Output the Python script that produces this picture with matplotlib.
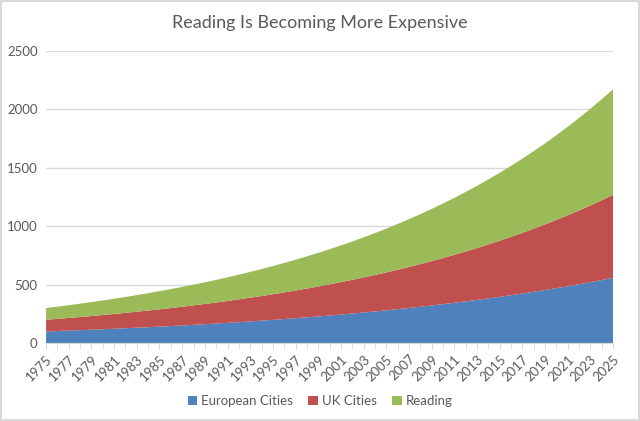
import matplotlib.pyplot as plt
from matplotlib.ticker import MultipleLocator

years = list(range(1975, 2026))

# one value per year
european = [100, 103.5, 107.1, 110.9, 114.8, 118.8, 122.9, 127.2, 131.7, 136.3,
            141.1, 146.0, 151.1, 156.4, 161.9, 167.5, 173.4, 179.5, 185.8, 192.3,
            199.0, 206.0, 213.2, 220.6, 228.3, 236.3, 244.6, 253.2, 262.0, 271.2,
            280.7, 290.5, 300.7, 311.2, 322.1, 333.4, 345.1, 357.1, 369.6, 382.6,
            395.9, 409.8, 424.2, 439.0, 454.4, 470.3, 486.7, 503.8, 521.4, 539.6,
            558.5]
uk = [100, 104.0, 108.2, 112.5, 117.0, 121.7, 126.5, 131.6, 136.9, 142.3,
      148.0, 153.9, 160.1, 166.5, 173.2, 180.1, 187.3, 194.8, 202.6, 210.7,
      219.1, 227.9, 237.0, 246.5, 256.3, 266.6, 277.2, 288.3, 299.9, 311.9,
      324.3, 337.3, 350.8, 364.8, 379.4, 394.6, 410.4, 426.8, 443.9, 461.6,
      480.1, 499.3, 519.3, 540.0, 561.6, 584.1, 607.5, 631.8, 657.0, 683.3,
      710.7]
reading = [100, 104.5, 109.2, 114.1, 119.3, 124.6, 130.2, 136.1, 142.2, 148.6,
           155.3, 162.3, 169.6, 177.2, 185.2, 193.5, 202.2, 211.3, 220.9, 230.8,
           241.2, 252.0, 263.4, 275.2, 287.6, 300.6, 314.1, 328.2, 343.0, 358.4,
           374.5, 391.4, 409.0, 427.4, 446.6, 466.7, 487.7, 509.7, 532.6, 556.6,
           581.6, 607.8, 635.1, 663.7, 693.6, 724.8, 757.4, 791.5, 827.1, 864.3,
           903.2]

labels = ['European Cities', 'UK Cities', 'Reading']
colors = ['#4F81BD', '#C0504D', '#9BBB59']
txt = '#595959'

plt.rcParams['font.family'] = ['Lato', 'DejaVu Sans']

fig = plt.figure(figsize=(6.4, 4.21), dpi=100, edgecolor='#D9D9D9', linewidth=1.5)
ax = fig.add_axes([0.072, 0.185, 0.886, 0.694])

ax.stackplot(years, european, uk, reading, labels=labels, colors=colors, zorder=2)

ax.set_xlim(1975, 2025)
ax.set_ylim(0, 2500)
ax.yaxis.set_major_locator(MultipleLocator(500))
ax.grid(axis='y', color='#D9D9D9', linewidth=1, zorder=0)

for s in ['top', 'right', 'left']:
    ax.spines[s].set_visible(False)
ax.spines['bottom'].set_color('#D9D9D9')
ax.spines['bottom'].set_zorder(3)

ax.set_xticks(years[::2])
ax.set_xticklabels([str(y) for y in years[::2]], rotation=45, ha='right',
                   rotation_mode='anchor', fontsize=9.5, color=txt)
ax.set_xticks(years, minor=True)
ax.tick_params(axis='x', which='both', length=4, color='#D9D9D9', pad=3)
ax.tick_params(axis='y', length=0, labelsize=9.5, labelcolor=txt, pad=6)

fig.suptitle('Reading Is Becoming More Expensive', y=0.965, fontsize=13, color=txt)

fig.legend(loc='center', bbox_to_anchor=(0.5, 0.047), ncol=3, frameon=False,
           fontsize=9.5, labelcolor=txt, handlelength=0.7, handleheight=0.7,
           handletextpad=0.3, columnspacing=1.2)

fig.savefig('out.png', dpi=100)
